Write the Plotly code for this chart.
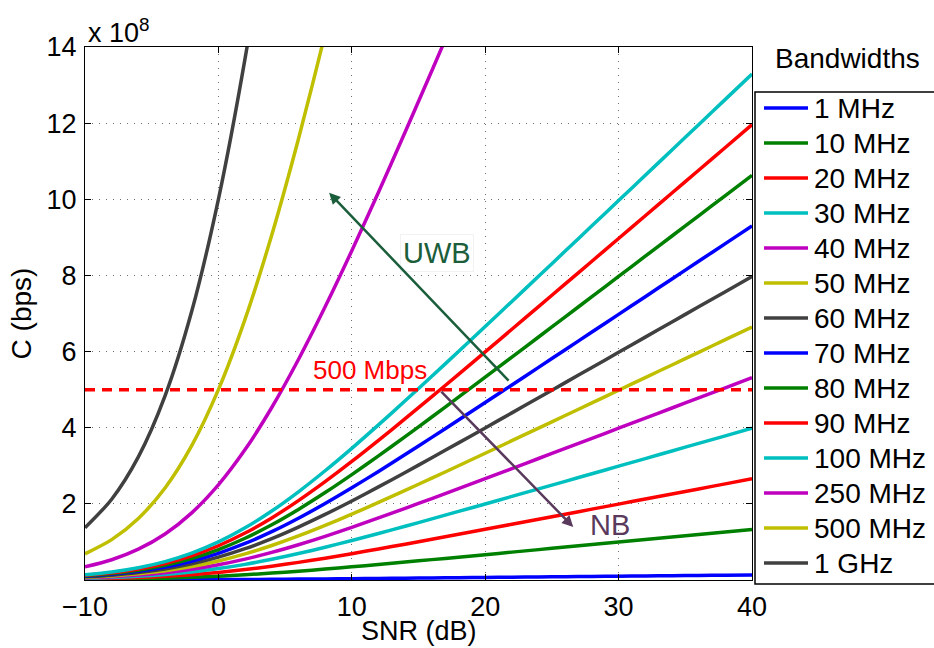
import plotly.graph_objects as go

# SNR axis (dB)
snr_db = [-10, -8, -6, -4, -2, 0, 2, 4, 6, 8, 10, 12, 14, 16, 18, 20,
          22, 24, 26, 28, 30, 32, 34, 36, 38, 40]

# Capacity values in units of 1e8 bps
bw_labels = ["1 MHz", "10 MHz", "20 MHz", "30 MHz", "40 MHz", "50 MHz", "60 MHz",
             "70 MHz", "80 MHz", "90 MHz", "100 MHz", "250 MHz", "500 MHz", "1 GHz"]

c_1mhz = [0.0014, 0.0021, 0.0032, 0.0048, 0.0071, 0.0100, 0.0137, 0.0181, 0.0232, 0.0287,
          0.0346, 0.0407, 0.0471, 0.0535, 0.0600, 0.0666, 0.0732, 0.0798, 0.0864, 0.0930,
          0.0997, 0.1063, 0.1130, 0.1196, 0.1262, 0.1329]
c_10mhz = [0.0138, 0.0212, 0.0323, 0.0484, 0.0706, 0.100, 0.137, 0.181, 0.232, 0.287,
           0.346, 0.407, 0.471, 0.535, 0.600, 0.666, 0.732, 0.798, 0.864, 0.930,
           0.997, 1.063, 1.130, 1.196, 1.262, 1.329]
c_20mhz = [0.0275, 0.0424, 0.0647, 0.0967, 0.1411, 0.200, 0.274, 0.362, 0.463, 0.574,
           0.692, 0.815, 0.941, 1.070, 1.200, 1.332, 1.463, 1.596, 1.728, 1.861,
           1.993, 2.126, 2.259, 2.392, 2.525, 2.658]
c_30mhz = [0.0413, 0.0637, 0.0970, 0.1451, 0.2117, 0.300, 0.411, 0.544, 0.695, 0.861,
           1.038, 1.222, 1.412, 1.605, 1.801, 1.997, 2.195, 2.393, 2.592, 2.791,
           2.990, 3.189, 3.389, 3.588, 3.787, 3.986]
c_40mhz = [0.0550, 0.0849, 0.1294, 0.1934, 0.2823, 0.400, 0.548, 0.725, 0.927, 1.148,
           1.384, 1.630, 1.883, 2.140, 2.401, 2.663, 2.927, 3.191, 3.456, 3.721,
           3.987, 4.252, 4.518, 4.784, 5.049, 5.315]
c_50mhz = [0.0688, 0.1061, 0.1617, 0.2418, 0.3529, 0.500, 0.685, 0.906, 1.158, 1.435,
           1.730, 2.037, 2.354, 2.675, 3.001, 3.329, 3.659, 3.989, 4.320, 4.652,
           4.984, 5.316, 5.648, 5.980, 6.312, 6.644]
c_60mhz = [0.0825, 0.1273, 0.1940, 0.2901, 0.4234, 0.600, 0.822, 1.087, 1.390, 1.722,
           2.076, 2.445, 2.824, 3.211, 3.601, 3.995, 4.390, 4.787, 5.184, 5.582,
           5.980, 6.379, 6.777, 7.176, 7.574, 7.973]
c_70mhz = [0.0963, 0.1485, 0.2264, 0.3385, 0.4940, 0.700, 0.959, 1.269, 1.622, 2.009,
           2.422, 2.852, 3.295, 3.746, 4.202, 4.661, 5.122, 5.585, 6.048, 6.513,
           6.977, 7.442, 7.907, 8.372, 8.836, 9.302]
c_80mhz = [0.1100, 0.1698, 0.2587, 0.3868, 0.5646, 0.800, 1.096, 1.450, 1.853, 2.296,
           2.768, 3.260, 3.766, 4.281, 4.802, 5.327, 5.854, 6.383, 6.912, 7.443,
           7.974, 8.505, 9.036, 9.567, 10.099, 10.630]
c_90mhz = [0.1238, 0.1910, 0.2911, 0.4352, 0.6351, 0.900, 1.233, 1.631, 2.085, 2.583,
           3.113, 3.667, 4.236, 4.816, 5.402, 5.992, 6.586, 7.180, 7.777, 8.373,
           8.970, 9.568, 10.166, 10.763, 11.361, 11.959]
c_100mhz = [0.1375, 0.2122, 0.3234, 0.4835, 0.7057, 1.000, 1.370, 1.812, 2.317, 2.870,
            3.459, 4.075, 4.707, 5.351, 6.002, 6.658, 7.317, 7.978, 8.641, 9.304,
            9.967, 10.631, 11.295, 11.959, 12.624, 13.288]
c_250mhz = [0.344, 0.531, 0.809, 1.209, 1.764, 2.500, 3.425, 4.531, 5.791, 7.175,
            8.649, 10.187, 11.768, 13.377, 15.006, 16.646, 18.293, 19.946, 21.602, 23.259,
            24.918, 26.578, 28.238, 29.898, 31.559, 33.220]
c_500mhz = [0.688, 1.061, 1.617, 2.418, 3.529, 5.000, 6.851, 9.061, 11.583, 14.349,
            17.297, 20.373, 23.535, 26.755, 30.011, 33.291, 36.587, 39.892, 43.203, 46.519,
            49.836, 53.156, 56.476, 59.797, 63.118, 66.440]
c_1ghz = [1.375, 2.122, 3.234, 4.835, 7.057, 10.000, 13.701, 18.122, 23.165, 28.698,
          34.594, 40.746, 47.070, 53.509, 60.022, 66.582, 73.173, 79.783, 86.406, 93.037,
          99.672, 106.311, 112.951, 119.593, 126.235, 132.879]

series = [c_1mhz, c_10mhz, c_20mhz, c_30mhz, c_40mhz, c_50mhz, c_60mhz,
          c_70mhz, c_80mhz, c_90mhz, c_100mhz, c_250mhz, c_500mhz, c_1ghz]

target_rate = 5.0  # 500 Mbps in units of 1e8
x_ticks = [-10, 0, 10, 20, 30, 40]
y_ticks = [2, 4, 6, 8, 10, 12, 14]

colors = ["#0000FF", "#008000", "#FF0000", "#00BFBF", "#BF00BF", "#BFBF00", "#404040"]

FONT = "Liberation Sans, Arial, Helvetica, sans-serif"

# figure geometry (pixels)
W, H = 934, 648
ML, MR, MT, MB = 85, 182, 47, 68
PW, PH = W - ML - MR, H - MT - MB


def px_x(p):
    return (p - ML) / PW


def px_y(p):
    return (H - MB - p) / PH


fig = go.Figure()
for i, (lab, vals) in enumerate(zip(bw_labels, series)):
    fig.add_trace(go.Scatter(
        x=snr_db, y=vals, mode="lines", name=lab,
        line=dict(color=colors[i % 7], width=3.5, shape="spline", smoothing=0.8),
    ))

fig.add_trace(go.Scatter(
    x=[snr_db[0], snr_db[-1]], y=[target_rate, target_rate], mode="lines",
    name="500 Mbps",
    line=dict(color="#FF0000", width=3.5, dash="10px,7px"), showlegend=False,
))

grid_common = dict(
    ticks="inside", ticklen=6, tickcolor="black", automargin=False,
    showline=True, linecolor="black", linewidth=1, mirror="ticks",
    showgrid=True, gridcolor="#6f6f6f", griddash="1px,6px", gridwidth=1,
    zeroline=False, tickfont=dict(size=27),
)

fig.update_layout(
    width=W, height=H,
    margin=dict(l=ML, r=MR, t=MT, b=MB),
    paper_bgcolor="white", plot_bgcolor="white",
    font=dict(family=FONT, size=27, color="black"),
    showlegend=False,
    xaxis=dict(range=[-10, 40], tickvals=x_ticks, ticklabelstandoff=3, **grid_common),
    yaxis=dict(range=[0, 14], tickvals=y_ticks, ticklabelstandoff=2,
               title=dict(text="C (bps)", standoff=6, font=dict(size=28)), **grid_common),
)

# x-axis title (placed tight under the tick labels as in the reference)
fig.add_annotation(xref="paper", yref="paper", x=0.5, y=px_y(631), xanchor="center",
                   yanchor="middle", text="SNR (dB)", showarrow=False,
                   font=dict(size=27))

# exponent label
fig.add_annotation(xref="paper", yref="paper", x=px_x(86), y=px_y(31), xanchor="left",
                   yanchor="middle", text="x 10<sup>8</sup>", showarrow=False,
                   font=dict(size=27))

# manual legend (MATLAB style)
fig.add_shape(type="rect", xref="paper", yref="paper",
              x0=px_x(755), x1=px_x(945), y0=px_y(584), y1=px_y(92),
              line=dict(color="black", width=1.5), fillcolor="white", layer="above")
fig.add_annotation(xref="paper", yref="paper", x=px_x(847), y=px_y(58),
                   xanchor="center", yanchor="middle", text="Bandwidths",
                   showarrow=False, font=dict(size=28))
for i, lab in enumerate(bw_labels):
    py = 108 + 35.0 * i
    fig.add_shape(type="line", xref="paper", yref="paper",
                  x0=px_x(764), x1=px_x(808), y0=px_y(py), y1=px_y(py),
                  line=dict(color=colors[i % 7], width=3.5), layer="above")
    fig.add_annotation(xref="paper", yref="paper", x=px_x(812), y=px_y(py),
                       xanchor="left", yanchor="middle", text=lab, showarrow=False,
                       font=dict(size=28))

# text labels
fig.add_annotation(x=11.36, y=5.52, text="500 Mbps", showarrow=False,
                   font=dict(size=26, color="#FF0000"))
fig.add_annotation(x=16.39, y=8.59, text="UWB", showarrow=False,
                   font=dict(size=29, color="#1B5E3B"),
                   bordercolor="#f2f2f2", borderwidth=1, borderpad=2)
fig.add_annotation(x=29.36, y=1.44, text="NB", showarrow=False,
                   font=dict(size=29, color="#5A3A5C"))
# arrows
fig.add_annotation(x=8.3, y=10.17, ax=21.86, ay=5.2, axref="x", ayref="y",
                   showarrow=True, arrowhead=2, arrowsize=0.9, arrowwidth=2.5,
                   arrowcolor="#1B5E3B", text="")
fig.add_annotation(x=26.6, y=1.39, ax=16.6, ay=4.99, axref="x", ayref="y",
                   showarrow=True, arrowhead=2, arrowsize=0.9, arrowwidth=2.5,
                   arrowcolor="#5A3A5C", text="")

fig.write_html("out.html")
